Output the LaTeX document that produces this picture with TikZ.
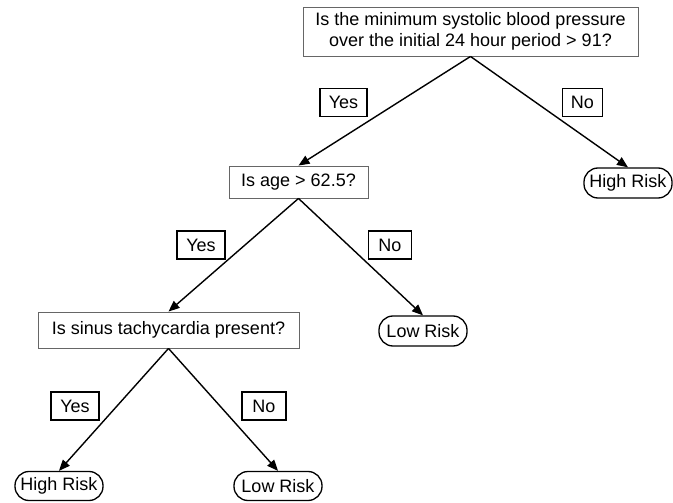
\documentclass[tikz,border=0pt]{standalone}
\usepackage{fontspec}
\setmainfont{Liberation Sans}
\usetikzlibrary{arrows.meta}
\begin{document}
\begin{tikzpicture}[x=1pt,y=-1pt,
  every node/.style={font=\fontsize{18}{21.5}\selectfont, inner sep=0pt, align=center},
  question/.style={draw=black!60, line width=0.9pt, fill=white},
  answer/.style={draw=black, line width=1.6pt, minimum height=28pt},
  leaf/.style={draw=black, line width=1.3pt, rounded corners=14pt, minimum width=88pt, minimum height=30pt},
  conn/.style={line width=1.4pt, -{Triangle[length=11pt,width=9pt]}}
]
\useasboundingbox (0,0) rectangle (673,503);
\node[question, minimum width=335pt, minimum height=49pt] (q1) at (470.5,31.5)
  {Is the minimum systolic blood pressure\\over the initial 24 hour period > 91?};
\node[question, minimum width=139pt, minimum height=32pt] (q2) at (298.5,182) {Is age > 62.5?};
\node[question, minimum width=261pt, minimum height=36pt] (q3) at (168.5,330) {Is sinus tachycardia present?};
\node[leaf] (h1) at (628,183) {High Risk};
\node[leaf] (l1) at (423,331) {Low Risk};
\node[leaf, minimum height=29pt] (h2) at (59,486) {High Risk};
\node[leaf, minimum height=29pt] (l2) at (278,486) {Low Risk};
\node[answer, minimum width=47pt] (y1) at (343.5,102.5) {Yes};
\node[answer, minimum width=40pt] (n1) at (582.5,102.5) {No};
\node[answer, minimum width=48pt] (y2) at (201,245) {Yes};
\node[answer, minimum width=43pt] (n2) at (390,245) {No};
\node[answer, minimum width=48pt] (y3) at (75,406) {Yes};
\node[answer, minimum width=44pt] (n3) at (264,406) {No};
\draw[conn] (q1.south) -- (q2.north);
\draw[conn] (q1.south) -- (h1.north);
\draw[conn] (q2.south) -- (q3.north);
\draw[conn] (q2.south) -- (l1.north);
\draw[conn] (q3.south) -- (h2.north);
\draw[conn] (q3.south) -- (l2.north);
\end{tikzpicture}
\end{document}
